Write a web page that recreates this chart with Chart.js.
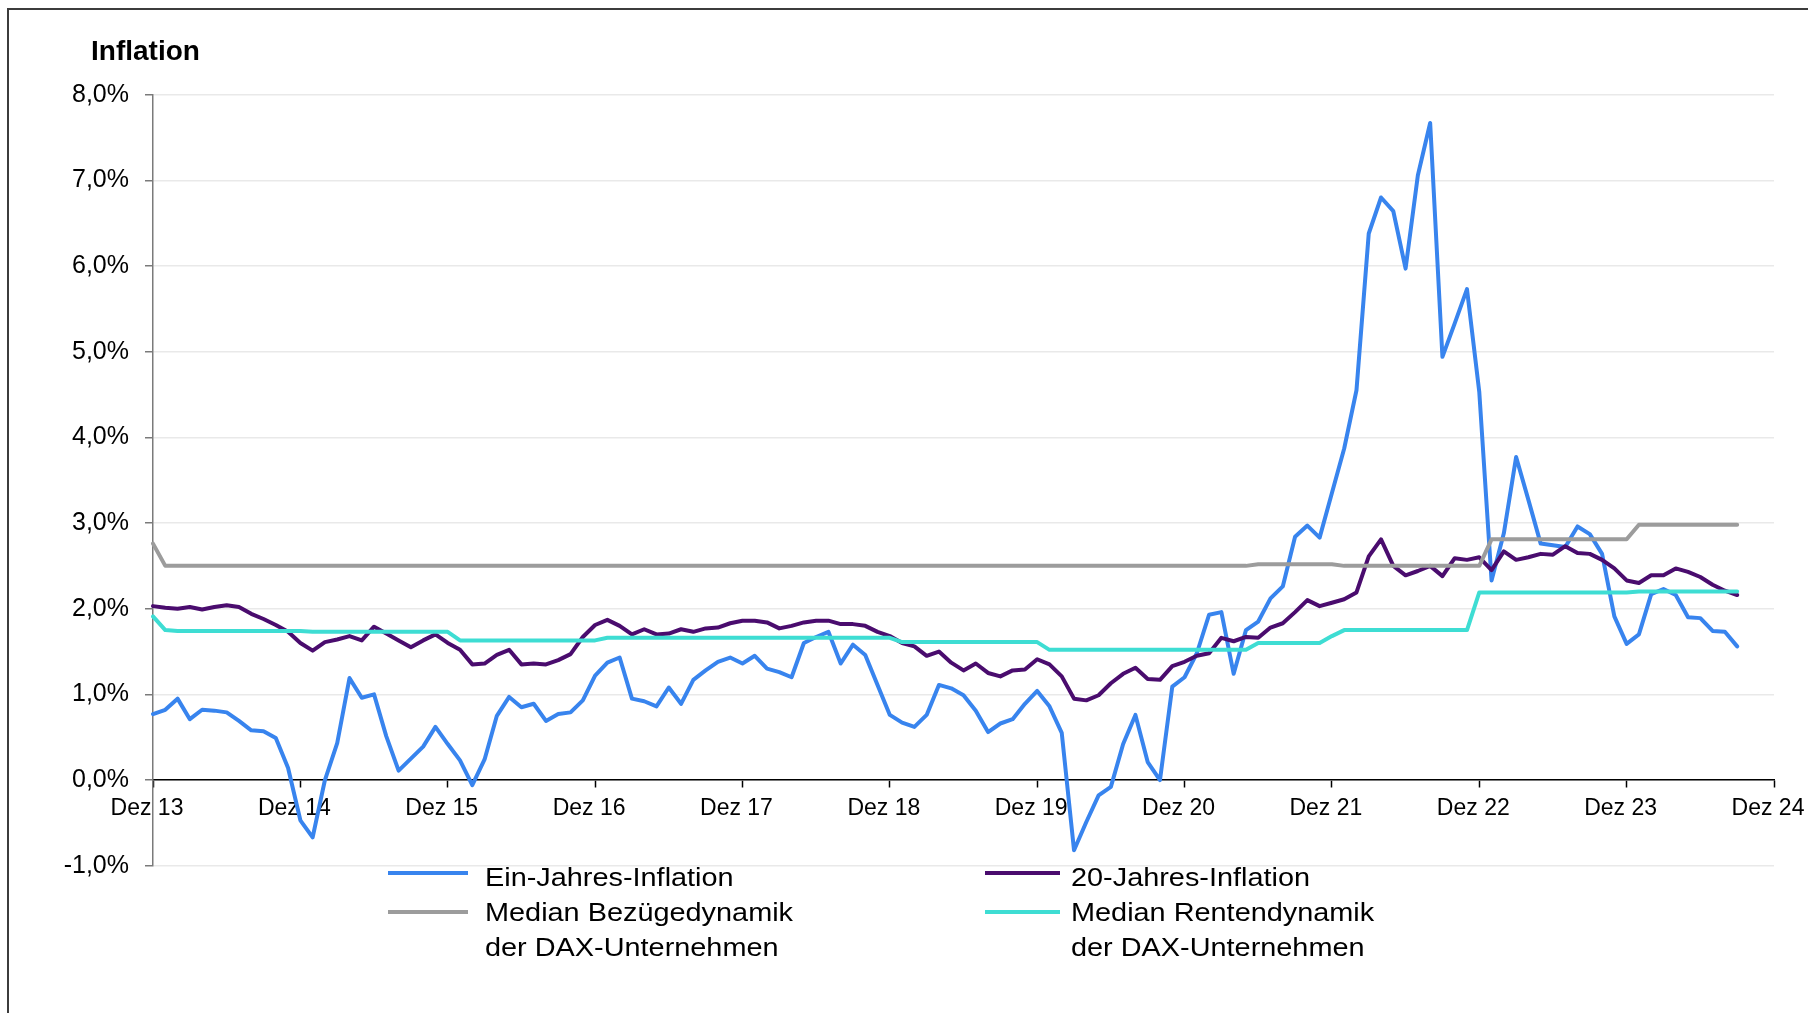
<!DOCTYPE html>
<html>
<head>
<meta charset="utf-8">
<script src="https://cdn.jsdelivr.net/npm/chart.js@4.4.1/dist/chart.umd.min.js"></script>
<style>
  html, body { margin:0; padding:0; background:#fff; width:1808px; height:1013px; overflow:hidden; }
  #frame { position:absolute; left:7px; top:8px; width:3000px; height:3000px;
           border-left:2px solid #3c3c3c; border-top:2px solid #3c3c3c; box-sizing:border-box; }
  #c { position:absolute; left:0; top:0; }
  #title { position:absolute; left:91px; top:35px; font:bold 28px 'Liberation Sans', Arial, sans-serif;
           line-height:32px; color:#000; white-space:nowrap; }
  .lg { position:absolute; font-family:'Liberation Sans', Arial, sans-serif; font-size:26px; line-height:35px;
        color:#000; white-space:nowrap; transform:scaleX(1.11); transform-origin:0 0; }
  .sw { position:absolute; height:4px; }
</style>
</head>
<body>
<div id="frame"></div>
<canvas id="c" width="1808" height="1013"></canvas>
<div id="title">Inflation</div>
<div id="legend"></div>
<script>
// ---- categories (monthly, Dez 13 .. Dez 24) ----
const monthNames = ['Jan','Feb','Mär','Apr','Mai','Jun','Jul','Aug','Sep','Okt','Nov','Dez'];
const years = [14,15,16,17,18,19,20,21,22,23,24];
const categories = ['Dez 13'];
for (const y of years) for (const m of monthNames) categories.push(m + ' ' + y);

// x tick labels shown on the axis
const xTickLabels = ['Dez 13','Dez 14','Dez 15','Dez 16','Dez 17','Dez 18','Dez 19','Dez 20','Dez 21','Dez 22','Dez 23','Dez 24'];
// y tick labels
const yTickLabels = ['-1,0%','0,0%','1,0%','2,0%','3,0%','4,0%','5,0%','6,0%','7,0%','8,0%'];

// ---- series (values in %) ; first value = Dez 13, then Jan..Dez per year ----
const einJahresInflation = [
  0.77,
  0.82, 0.95, 0.71, 0.82, 0.81, 0.79, 0.69, 0.58, 0.57, 0.49, 0.14, -0.47,
  -0.67, 0.00, 0.43, 1.19, 0.96, 1.00, 0.51, 0.11, 0.25, 0.39, 0.62, 0.42,
  0.23, -0.06, 0.24, 0.75, 0.97, 0.85, 0.89, 0.69, 0.77, 0.79, 0.93, 1.22,
  1.37, 1.43, 0.95, 0.92, 0.86, 1.08, 0.89, 1.17, 1.28, 1.38, 1.43, 1.36,
  1.45, 1.30, 1.26, 1.20, 1.60, 1.67, 1.73, 1.36, 1.58, 1.46, 1.11, 0.76,
  0.67, 0.62, 0.76, 1.11, 1.07, 0.99, 0.81, 0.56, 0.66, 0.71, 0.89, 1.04,
  0.86, 0.55, -0.82, -0.49, -0.18, -0.08, 0.42, 0.76, 0.21, 0.00, 1.09, 1.20,
  1.48, 1.93, 1.96, 1.24, 1.75, 1.85, 2.12, 2.26, 2.84, 2.97, 2.83, 3.35,
  3.87, 4.55, 6.38, 6.80, 6.64, 5.97, 7.06, 7.67, 4.94, 5.33, 5.73, 4.53,
  2.33, 2.88, 3.77, 3.27, 2.76, 2.74, 2.72, 2.96, 2.87, 2.64, 1.91, 1.59,
  1.70, 2.17, 2.23, 2.16, 1.90, 1.89, 1.74, 1.73, 1.56
];
const zwanzigJahresInflation = [
  2.03,
  2.01, 2.00, 2.02, 1.99, 2.02, 2.04, 2.02, 1.94, 1.88, 1.81, 1.73, 1.60,
  1.51, 1.61, 1.64, 1.68, 1.63, 1.79, 1.71, 1.63, 1.55, 1.63, 1.70, 1.60,
  1.52, 1.35, 1.36, 1.46, 1.52, 1.35, 1.36, 1.35, 1.40, 1.47, 1.67, 1.81,
  1.87, 1.80, 1.70, 1.76, 1.70, 1.71, 1.76, 1.73, 1.77, 1.78, 1.83, 1.86,
  1.86, 1.84, 1.77, 1.80, 1.84, 1.86, 1.86, 1.82, 1.82, 1.80, 1.73, 1.68,
  1.60, 1.56, 1.45, 1.50, 1.37, 1.28, 1.36, 1.25, 1.21, 1.28, 1.29, 1.41,
  1.35, 1.21, 0.95, 0.93, 0.99, 1.13, 1.24, 1.31, 1.18, 1.17, 1.33, 1.38,
  1.45, 1.48, 1.66, 1.62, 1.67, 1.66, 1.78, 1.83, 1.96, 2.10, 2.03, 2.07,
  2.11, 2.19, 2.61, 2.81, 2.50, 2.39, 2.44, 2.50, 2.38, 2.59, 2.57, 2.60,
  2.45, 2.67, 2.57, 2.60, 2.64, 2.63, 2.73, 2.65, 2.64, 2.57, 2.47, 2.33,
  2.30, 2.39, 2.39, 2.47, 2.43, 2.37, 2.28, 2.21, 2.16
];
const medianBezuegedynamik = [
  2.76,
  2.50, 2.50, 2.50, 2.50, 2.50, 2.50, 2.50, 2.50, 2.50, 2.50, 2.50, 2.50,
  2.50, 2.50, 2.50, 2.50, 2.50, 2.50, 2.50, 2.50, 2.50, 2.50, 2.50, 2.50,
  2.50, 2.50, 2.50, 2.50, 2.50, 2.50, 2.50, 2.50, 2.50, 2.50, 2.50, 2.50,
  2.50, 2.50, 2.50, 2.50, 2.50, 2.50, 2.50, 2.50, 2.50, 2.50, 2.50, 2.50,
  2.50, 2.50, 2.50, 2.50, 2.50, 2.50, 2.50, 2.50, 2.50, 2.50, 2.50, 2.50,
  2.50, 2.50, 2.50, 2.50, 2.50, 2.50, 2.50, 2.50, 2.50, 2.50, 2.50, 2.50,
  2.50, 2.50, 2.50, 2.50, 2.50, 2.50, 2.50, 2.50, 2.50, 2.50, 2.50, 2.50,
  2.50, 2.50, 2.50, 2.50, 2.50, 2.52, 2.52, 2.52, 2.52, 2.52, 2.52, 2.52,
  2.50, 2.50, 2.50, 2.50, 2.50, 2.50, 2.50, 2.50, 2.50, 2.50, 2.50, 2.50,
  2.81, 2.81, 2.81, 2.81, 2.81, 2.81, 2.81, 2.81, 2.81, 2.81, 2.81, 2.81,
  2.98, 2.98, 2.98, 2.98, 2.98, 2.98, 2.98, 2.98, 2.98
];
const medianRentendynamik = [
  1.91,
  1.75, 1.74, 1.74, 1.74, 1.74, 1.74, 1.74, 1.74, 1.74, 1.74, 1.74, 1.74,
  1.73, 1.73, 1.73, 1.73, 1.73, 1.73, 1.73, 1.73, 1.73, 1.73, 1.73, 1.73,
  1.63, 1.63, 1.63, 1.63, 1.63, 1.63, 1.63, 1.63, 1.63, 1.63, 1.63, 1.63,
  1.66, 1.66, 1.66, 1.66, 1.66, 1.66, 1.66, 1.66, 1.66, 1.66, 1.66, 1.66,
  1.66, 1.66, 1.66, 1.66, 1.66, 1.66, 1.66, 1.66, 1.66, 1.66, 1.66, 1.66,
  1.61, 1.61, 1.61, 1.61, 1.61, 1.61, 1.61, 1.61, 1.61, 1.61, 1.61, 1.61,
  1.52, 1.52, 1.52, 1.52, 1.52, 1.52, 1.52, 1.52, 1.52, 1.52, 1.52, 1.52,
  1.52, 1.52, 1.52, 1.52, 1.52, 1.60, 1.60, 1.60, 1.60, 1.60, 1.60, 1.68,
  1.75, 1.75, 1.75, 1.75, 1.75, 1.75, 1.75, 1.75, 1.75, 1.75, 1.75, 2.19,
  2.19, 2.19, 2.19, 2.19, 2.19, 2.19, 2.19, 2.19, 2.19, 2.19, 2.19, 2.19,
  2.20, 2.20, 2.20, 2.20, 2.20, 2.20, 2.20, 2.20, 2.20
];

const seriesNames = ['Ein-Jahres-Inflation', '20-Jahres-Inflation',
  'Median Bezügedynamik\nder DAX-Unternehmen', 'Median Rentendynamik\nder DAX-Unternehmen'];
const seriesColors = ['#3884EE', '#4A0C6E', '#9C9C9C', '#3EDDD3'];
const seriesData = [einJahresInflation, zwanzigJahresInflation, medianBezuegedynamik, medianRentendynamik];
const seriesOrder = [3, 2, 1, 0];

const FONT = "'Liberation Sans', Arial, Helvetica, sans-serif";

new Chart(document.getElementById('c'), {
  type: 'line',
  data: {
    labels: categories,
    datasets: seriesData.map((d, i) => ({
      label: seriesNames[i],
      data: d,
      borderColor: seriesColors[i],
      backgroundColor: seriesColors[i],
      borderWidth: 4,
      pointRadius: 0,
      tension: 0,
      fill: false,
      borderJoinStyle: 'round',
      borderCapStyle: 'round',
      order: seriesOrder[i]
    }))
  },
  options: {
    responsive: false,
    animation: false,
    devicePixelRatio: 1,
    layout: { padding: { left: 0, right: 34, top: 94.7, bottom: 147.3 } },
    plugins: { legend: { display: false }, tooltip: { enabled: false }, title: { display: false } },
    scales: {
      x: {
        type: 'category',
        position: { y: 0 },
        offset: false,
        grid: {
          drawOnChartArea: false,
          drawTicks: true,
          tickLength: 7,
          tickWidth: 1.5,
          tickColor: (ctx) => xTickLabels.includes(categories[ctx.index]) ? '#000' : 'rgba(0,0,0,0)'
        },
        border: { display: true, color: '#000', width: 1.5 },
        ticks: {
          autoSkip: false,
          maxRotation: 0,
          minRotation: 0,
          padding: 8,
          labelOffset: -6,
          color: '#000',
          font: { family: FONT, size: 23 },
          callback: (v, idx) => xTickLabels.includes(categories[idx]) ? categories[idx] : ''
        },
        afterFit: (s) => { s.paddingLeft = 0; s.paddingRight = 0; }
      },
      y: {
        min: -1,
        max: 8,
        grid: {
          color: '#e9e9e9',
          lineWidth: 1.5,
          drawTicks: true,
          tickLength: 8,
          tickColor: '#7a7a7a',
          tickWidth: 1.5
        },
        border: { display: true, color: '#7a7a7a', width: 1.5 },
        ticks: {
          stepSize: 1,
          padding: 16,
          color: '#000',
          font: { family: FONT, size: 25 },
          callback: (v) => yTickLabels[Math.round(v) + 1]
        },
        afterFit: (s) => { s.width = 153; s.paddingTop = 0; s.paddingBottom = 0; }
      }
    }
  }
});

// ---- HTML legend (two columns, row-major) ----
const legendCols = [
  { swLeft: 388, swWidth: 80, textLeft: 485 },
  { swLeft: 985, swWidth: 75, textLeft: 1071 }
];
const legendRows = [{ top: 859.5, swY: 871 }, { top: 894.5, swY: 909.5 }];
const lg = document.getElementById('legend');
seriesNames.forEach((name, i) => {
  const col = legendCols[i % 2], row = legendRows[Math.floor(i / 2)];
  const sw = document.createElement('div');
  sw.className = 'sw';
  sw.style.left = col.swLeft + 'px';
  sw.style.width = col.swWidth + 'px';
  sw.style.top = row.swY + 'px';
  sw.style.background = seriesColors[i];
  lg.appendChild(sw);
  const tx = document.createElement('div');
  tx.className = 'lg';
  tx.style.left = col.textLeft + 'px';
  tx.style.top = row.top + 'px';
  tx.innerHTML = name.split('\n').join('<br>');
  lg.appendChild(tx);
});
</script>
</body>
</html>
